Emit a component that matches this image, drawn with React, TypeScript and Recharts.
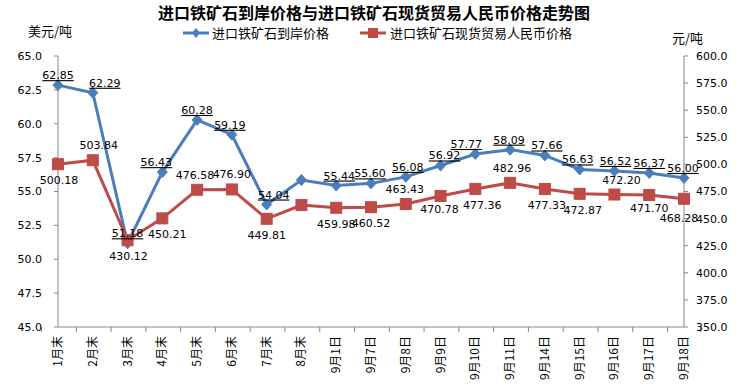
import React from "react";
import { LineChart, Line, XAxis, YAxis } from "recharts";

// 日期 / 类别
const categories = [
  "1月末", "2月末", "3月末", "4月末", "5月末", "6月末", "7月末", "8月末",
  "9月1日", "9月7日", "9月8日", "9月9日", "9月10日", "9月11日", "9月14日",
  "9月15日", "9月16日", "9月17日", "9月18日",
];

// 进口铁矿石到岸价格 (美元/吨)
const arrivalPrice = [
  62.85, 62.29, 51.18, 56.43, 60.28, 59.19, 54.04, 55.85, 55.44, 55.6,
  56.08, 56.92, 57.77, 58.09, 57.66, 56.63, 56.52, 56.37, 56.0,
];

// 进口铁矿石现货贸易人民币价格 (元/吨)
const spotPrice = [
  500.18, 503.84, 430.12, 450.21, 476.58, 476.9, 449.81, 462.5, 459.98, 460.52,
  463.43, 470.78, 477.36, 482.96, 477.33, 472.87, 472.2, 471.7, 468.28,
];

// which points carry a value label
const arrivalLabeled = [
  true, true, true, true, true, true, true, false, true, true,
  true, true, true, true, true, true, true, true, true,
];
const spotLabelSide = [
  "below", "above", "below", "below", "above", "above", "below", "", "below", "below",
  "above", "below", "below", "above", "below", "below", "above", "below", "below",
];

// small nudges of the value labels (as in the original)
const arrivalLabelNudge = [0, 12, 0, -6, 0, -2, 7, 0, 3, -1, 2, 4, -9, -1, 2, -2, 1, 0, -1];
const spotLabelNudge = [1, 6, 1, 5, -2, 0, 0, 0, 0, 0, -1, -1, 7, 2, 2, 3, 7, 0, -5];
const spotLabelDy = [0, 0, 0, 0, 0, 0, 0, 0, 0, 0, 0, -3, 0, 0, 0, 0, 0, -3, 3];

const leftTicks = [45, 47.5, 50, 52.5, 55, 57.5, 60, 62.5, 65];
const rightTicks = [350, 375, 400, 425, 450, 475, 500, 525, 550, 575, 600];

const data = categories.map((name, i) => ({
  name,
  arrival: arrivalPrice[i],
  spot: spotPrice[i],
}));

const BLUE = "#4A7EBB";
const RED = "#BE4B48";
const AXIS = "#868686";
const NUM_FONT = "'DejaVu Sans', Verdana, sans-serif";
const CJK_FONT = "'Noto Sans CJK SC', 'Noto Sans', sans-serif";

const W = 748;
const H = 390;
const PLOT_LEFT = 58;
const PLOT_RIGHT = 684;
const HALF_BAND = (PLOT_RIGHT - PLOT_LEFT) / categories.length / 2;

const Diamond = (props: any) => {
  const { cx, cy } = props;
  if (cx == null || cy == null) return null;
  return (
    <path
      d={`M${cx},${cy - 5.5} L${cx + 5},${cy} L${cx},${cy + 5.5} L${cx - 5},${cy} Z`}
      fill={BLUE}
      stroke={BLUE}
    />
  );
};

const Square = (props: any) => {
  const { cx, cy } = props;
  if (cx == null || cy == null) return null;
  return <rect x={cx - 5.5} y={cy - 5.5} width={11} height={11} fill={RED} stroke={RED} />;
};

const BlueLabel = (props: any) => {
  const { x, y, value, index } = props;
  if (!arrivalLabeled[index]) return null;
  return (
    <text
      x={x + arrivalLabelNudge[index]}
      y={y - 6}
      textAnchor="middle"
      fontSize={11}
      fontFamily={NUM_FONT}
      fill="#000"
      style={{ textDecoration: "underline" }}
    >
      {Number(value).toFixed(2)}
    </text>
  );
};

const RedLabel = (props: any) => {
  const { x, y, value, index } = props;
  const side = spotLabelSide[index];
  if (!side) return null;
  return (
    <text
      x={x + spotLabelNudge[index]}
      y={(side === "above" ? y - 11 : y + 20) + spotLabelDy[index]}
      textAnchor="middle"
      fontSize={11}
      fontFamily={NUM_FONT}
      fill="#000"
    >
      {Number(value).toFixed(2)}
    </text>
  );
};

const XTick = (props: any) => {
  const { x, y, payload, index } = props;
  const last = index === categories.length - 1;
  return (
    <g transform={`translate(${x},${y})`}>
      <line x1={-HALF_BAND} x2={-HALF_BAND} y1={0} y2={5} stroke={AXIS} />
      {last && <line x1={HALF_BAND} x2={HALF_BAND} y1={0} y2={5} stroke={AXIS} />}
      <text
        transform="rotate(-90)"
        x={-9}
        y={4}
        textAnchor="end"
        fontSize={12}
        fontFamily={CJK_FONT}
        fill="#000"
      >
        {payload.value}
      </text>
    </g>
  );
};

export default function App() {
  return (
    <div
      style={{
        position: "absolute",
        left: 0,
        top: 0,
        width: W,
        height: H,
        background: "#fff",
        fontFamily: CJK_FONT,
      }}
    >
      <div
        style={{
          position: "absolute",
          top: 3,
          left: 0,
          width: W,
          textAlign: "center",
          fontSize: 16,
          fontWeight: "bold",
          lineHeight: "18px",
        }}
      >
        进口铁矿石到岸价格与进口铁矿石现货贸易人民币价格走势图
      </div>
      <div style={{ position: "absolute", top: 23, left: 28, fontSize: 13, lineHeight: "16px" }}>
        美元/吨
      </div>
      <div style={{ position: "absolute", top: 30, left: 672, fontSize: 13, lineHeight: "16px" }}>
        元/吨
      </div>
      <div
        style={{
          position: "absolute",
          top: 25,
          left: 183,
          fontSize: 13,
          lineHeight: "15px",
          display: "flex",
          alignItems: "center",
        }}
      >
        <svg width={26} height={12}>
          <line x1={0} x2={26} y1={6} y2={6} stroke={BLUE} strokeWidth={3} />
          <path d="M13,1 L17,6 L13,11 L9,6 Z" fill={BLUE} />
        </svg>
        <span style={{ marginLeft: 3 }}>进口铁矿石到岸价格</span>
        <svg width={26} height={12} style={{ marginLeft: 31 }}>
          <line x1={0} x2={26} y1={6} y2={6} stroke={RED} strokeWidth={3} />
          <rect x={8} y={1} width={10} height={10} fill={RED} />
        </svg>
        <span style={{ marginLeft: 4 }}>进口铁矿石现货贸易人民币价格</span>
      </div>
      <LineChart
        width={W}
        height={H}
        data={data}
        margin={{ top: 56, right: 0, bottom: 0, left: 0 }}
        style={{ position: "absolute", left: 0, top: 0 }}
      >
        <XAxis
          dataKey="name"
          interval={0}
          height={63}
          tickLine={false}
          tickSize={0}
          tickMargin={0}
          stroke={AXIS}
          tick={<XTick />}
        />
        <YAxis
          yAxisId="left"
          orientation="left"
          width={PLOT_LEFT}
          domain={[45, 65]}
          ticks={leftTicks}
          tickFormatter={(v: number) => v.toFixed(1)}
          tickSize={4}
          tickMargin={12}
          stroke={AXIS}
          tick={{ fill: "#000", fontSize: 11, fontFamily: NUM_FONT }}
        />
        <YAxis
          yAxisId="right"
          orientation="right"
          width={W - PLOT_RIGHT}
          domain={[350, 600]}
          ticks={rightTicks}
          tickFormatter={(v: number) => v.toFixed(1)}
          tickSize={4}
          tickMargin={8}
          stroke={AXIS}
          tick={{ fill: "#000", fontSize: 11, fontFamily: NUM_FONT }}
        />
        <Line
          yAxisId="left"
          dataKey="arrival"
          type="linear"
          stroke={BLUE}
          strokeWidth={3}
          dot={<Diamond />}
          activeDot={false}
          label={<BlueLabel />}
          isAnimationActive={false}
        />
        <Line
          yAxisId="right"
          dataKey="spot"
          type="linear"
          stroke={RED}
          strokeWidth={3}
          dot={<Square />}
          activeDot={false}
          label={<RedLabel />}
          isAnimationActive={false}
        />
      </LineChart>
    </div>
  );
}
